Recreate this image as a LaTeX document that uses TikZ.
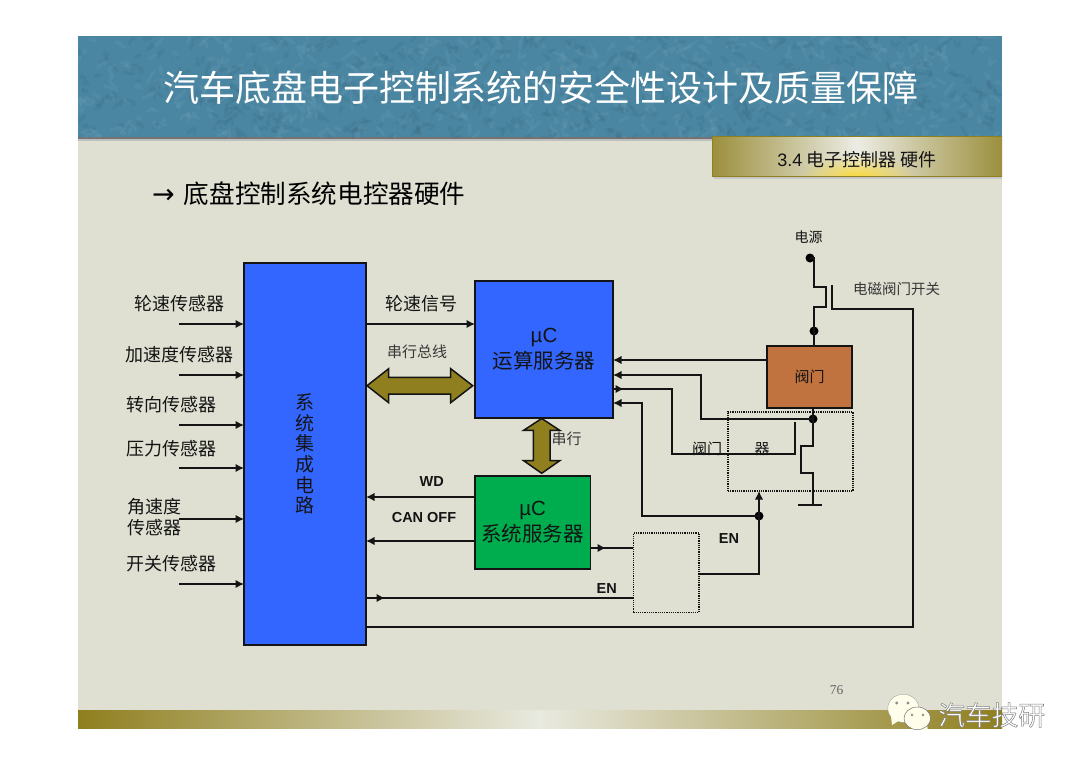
\documentclass[tikz,border=0pt]{standalone}
\usepackage{fontspec}
\usetikzlibrary{arrows.meta,fadings,calc}
\setmainfont{Noto Sans CJK SC}
\newfontfamily\lat{Liberation Sans}
\newfontfamily\latser{Liberation Serif}
\newfontfamily\sym{DejaVu Sans}
\newcommand{\fsz}[1]{\fontsize{#1}{#1}\selectfont}
\definecolor{slidebg}{HTML}{DFE0D2}
\definecolor{headteal}{HTML}{4A86A2}
\definecolor{olive}{HTML}{8F7F1E}
\definecolor{badgeol}{HTML}{9C8F3D}
\definecolor{boxblue}{HTML}{3366FF}
\definecolor{boxgreen}{HTML}{00AD4E}
\definecolor{boxbrown}{HTML}{C1733F}
\definecolor{ink}{HTML}{141414}
\tikzfading[name=glowfade,inner color=transparent!0,outer color=transparent!100]
\tikzset{
  box/.style={draw=ink,line width=1.5pt,rectangle,inner sep=0pt,outer sep=0pt,align=center,text=ink},
  dotbox/.style={draw=ink,line width=1.2pt,densely dotted,rectangle,inner sep=0pt,outer sep=0pt},
  wire/.style={draw=ink,line width=1.6pt},
  arr/.style={wire,-{Latex[length=8.5pt,width=8.5pt]}},
  lab/.style={inner sep=0pt,text=ink,font=\fsz{18}},
  smalllab/.style={inner sep=0pt,text=ink!85,font=\fsz{15}},
  enlab/.style={inner sep=0pt,text=ink,font=\lat\bfseries\fsz{14.5}},
  jdot/.style={circle,fill=black,inner sep=0pt,minimum size=9pt},
  bus/.style={draw=ink,line width=1.5pt,fill=olive},
}
\begin{document}
\begin{tikzpicture}[x=1pt,y=-1pt]
\useasboundingbox (0,0) rectangle (1080,763);
\fill[white] (0,0) rectangle (1080,763);
% slide
\fill[slidebg] (78,36) rectangle (1002,728);
% header
\fill[black!55] (78,137) rectangle (1002,139);
\fill[black!25] (78,139) rectangle (1002,141);
\fill[headteal] (78,36) rectangle (1002,137);
\begin{scope}
\clip (78,36) rectangle (1002,137);
\pgfmathsetseed{7}
\foreach \i in {1,...,900}{
  \pgfmathsetmacro\xa{78+924*rnd}
  \pgfmathsetmacro\ya{36+101*rnd}
  \pgfmathsetmacro\xb{\xa+16*rnd-8}
  \pgfmathsetmacro\yb{\ya+16*rnd-8}
  \pgfmathsetmacro\xc{\xa+16*rnd-8}
  \pgfmathsetmacro\yc{\ya+12*rnd-6}
  \ifodd\i
    \draw[color=white!22!headteal,opacity=.22,line width=3pt,line cap=round] (\xa,\ya) .. controls (\xb,\yb) .. (\xc,\yc);
  \else
    \draw[color=black!22!headteal,opacity=.22,line width=3pt,line cap=round] (\xa,\ya) .. controls (\xb,\yb) .. (\xc,\yc);
  \fi
}
\end{scope}
\node[inner sep=0pt,text=white,font=\fsz{36}] (title) at (541,88) {汽车底盘电子控制系统的安全性设计及质量保障};
% badge
\fill[black!22] (714,176) rectangle (1002,178.5);
\shade[left color=badgeol,right color=badgeol,middle color=slidebg!60!white] (712,136) rectangle (1002,176);
\begin{scope}
\clip (712,136) rectangle (1002,176);
\fill[color=yellow!70!orange,opacity=.8,path fading=glowfade] (857,178) ellipse (58 and 24);
\end{scope}
\draw[olive,line width=1pt] (1002,136) -- (712,136) -- (712,176) -- (1002,176);
\node[inner sep=0pt,text=ink,font=\fsz{18}] (badge) at (857,159.5) {{\lat 3.4} 电子控制器 硬件};
% subtitle
\node[anchor=west,inner sep=0pt,text=black,font=\fsz{25.6}] (subtitle) at (152,193.5) {{\sym\fsz{27}→}\hspace{9pt}底盘控制系统电控器硬件};
% bottom bar
\shade[left color=olive,right color=olive,middle color=slidebg!70!white] (78,710) rectangle (1002,728);
\node[inner sep=0pt,text=black!60,font=\latser\fsz{13.5}] (page) at (836.5,690.5) {76};
% boxes
\node[box,fill=boxblue,minimum width=122,minimum height=382,font=\fontsize{19}{20.6}\selectfont] (sys) at (305,454)
  {系\\统\\集\\成\\电\\路};
\node[box,fill=boxblue,minimum width=138,minimum height=137,font=\fontsize{20.5}{26}\selectfont] (calc) at (544,349.5)
  {{\lat µC}\\运算服务器};
\node[box,fill=boxgreen,minimum width=115.5,minimum height=93,font=\fontsize{20.5}{26}\selectfont] (serv) at (532.7,522.5)
  {{\lat µC}\\系统服务器};
\node[box,fill=boxbrown,minimum width=85,minimum height=62,font=\fsz{15}] (valve) at (809.5,377) {阀门};
\node[dotbox,minimum width=125,minimum height=79] (drv) at (790.5,451.5) {};
\node[dotbox,minimum width=65.5,minimum height=79.5] (enb) at (666.2,572.7) {};
% bus arrows
\draw[bus] (367,385.7) -- (388.7,368.7) -- (388.7,377.4) -- (450.7,377.4) -- (450.7,368.7) -- (472.7,385.7) -- (450.7,402.7) -- (450.7,394) -- (388.7,394) -- (388.7,402.7) -- cycle;
\draw[bus] (541.7,418.5) -- (559.7,430.3) -- (550,430.3) -- (550,460.7) -- (559.7,460.7) -- (541.7,473.3) -- (523.7,460.7) -- (533.4,460.7) -- (533.4,430.3) -- (523.7,430.3) -- cycle;
% left labels and inputs
\node[lab] (l1) at (179,303.3) {轮速传感器};
\node[lab] (l2) at (179,354.7) {加速度传感器};
\node[lab] (l3) at (171.7,405) {转向传感器};
\node[lab] (l4) at (171.7,448.3) {压力传感器};
\node[lab,align=left,font=\fontsize{18}{20.6}\selectfont] (l5) at (154,517) {角速度\\传感器};
\node[lab] (l6) at (171.7,564) {开关传感器};
\coordinate (i1) at (179,324);
\coordinate (i2) at (179,375);
\coordinate (i3) at (179,425);
\coordinate (i4) at (179,468);
\coordinate (i5) at (179,519);
\coordinate (i6) at (179,584);
\foreach \n in {i1,i2,i3,i4,i5,i6}{\draw[arr] (\n) -- (sys.west |- \n);}
% middle wires and labels
\node[lab] (wheel) at (421,304) {轮速信号};
\draw[arr] (sys.east |- 0,324) -- (calc.west |- 0,324);
\node[smalllab] (busl) at (417,352) {串行总线};
\node[smalllab] (serl) at (566.7,439.3) {串行};
\node[enlab] (wd) at (431.7,482) {WD};
\node[enlab] (can) at (424,518) {CAN OFF};
\draw[arr] (serv.west |- 0,497) -- (sys.east |- 0,497);
\draw[arr] (serv.west |- 0,541) -- (sys.east |- 0,541);
\draw[wire] (serv.east |- 0,548) -- (enb.west |- 0,548);
\draw[arr] (serv.east |- 0,548) -- (606,548);
\draw[wire] (sys.east |- 0,598) -- (enb.west |- 0,598);
\draw[arr] (sys.east |- 0,598) -- (385,598);
\node[enlab] (en1) at (606.7,589) {EN};
\node[enlab] (en2) at (729,539) {EN};
% power and switch
\node[smalllab,text=ink,font=\fsz{14}] (power) at (808.5,237) {电源};
\node[smalllab,font=\fsz{14.5}] (swl) at (896.5,289.5) {电磁阀门开关};
\node[jdot] (dp) at (810,258) {};
\node[jdot] (dv) at (814,331) {};
\draw[wire] (dp.center) -- (814,258) -- (814,287) -- (826,287) -- (826,307) -- (814,307) -- (dv.center) -- (dv |- valve.north);
\draw[wire] (832,285) -- (832,309) -- (913,309) -- (913,627) -- (sys.east |- 0,627);
% valve outputs
\node[jdot] (ds) at (813,419) {};
\draw[wire] (ds |- valve.south) -- (ds.center) -- (813,446) -- (801,446) -- (801,473) -- (813,473) -- (813,505);
\draw[wire] (798,505) -- (822,505);
\draw[arr] (valve.west |- 0,360) -- (calc.east |- 0,360);
\draw[arr] (ds.center) -- (701,419) -- (701,375) -- (calc.east |- 0,375);
\draw[wire] (795,422) -- (795,454) -- (672,454) -- (672,389) -- (calc.east |- 0,389);
\draw[arr] (calc.east |- 0,389) -- (624,389);
\node[jdot] (de) at (759,516) {};
\draw[arr] (de.center) -- (642,516) -- (642,403) -- (calc.east |- 0,403);
\draw[arr] (de.center) -- (de |- drv.south);
\draw[wire] (de.center) -- (759,574) -- (enb.east |- 0,574);
\node[smalllab,text=ink,font=\fsz{15}] (dl1) at (707,449) {阀门};
\node[smalllab,text=ink,font=\fsz{15}] (dl2) at (762,449) {器};
% watermark
\fill[white!92!yellow,draw=black!40,line width=.3pt] (903.3,708.3) ellipse (15.5 and 14);
\fill[white!92!yellow] (891,716) -- (892,725) -- (900,720) -- cycle;
\fill[black!45] (896.7,703) circle (1.6) (908,703) circle (1.6);
\fill[white!92!yellow] (927,724) -- (928,732) -- (919,728) -- cycle;
\fill[white!92!yellow,draw=black!55,line width=.5pt] (917.3,718.3) ellipse (13.3 and 11.3);
\fill[black!45] (912,715) circle (1.4) (923,715) circle (1.4);
\node[inner sep=0pt,text=white,font=\fsz{26.7}] (wm) at (991.7,715)
  {\special{pdf:code q 2 Tr 0.5 w 0.5 0.5 0.5 RG}汽车技研\special{pdf:code Q}};
\end{tikzpicture}
\end{document}
